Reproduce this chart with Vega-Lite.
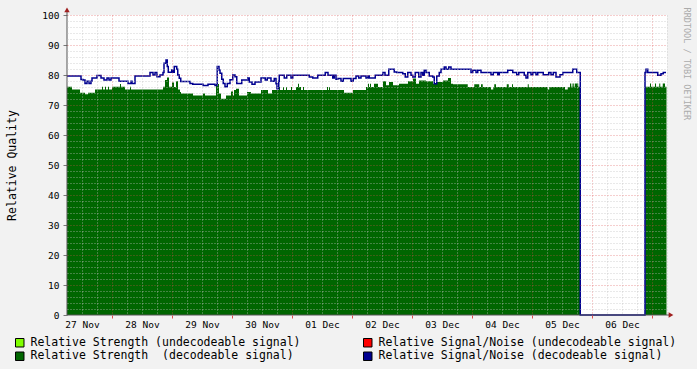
{
  "$schema": "https://vega.github.io/schema/vega-lite/v6.json",
  "width": 600,
  "height": 300,
  "autosize": {"type": "none"},
  "padding": {"left": 67, "top": 15, "right": 30, "bottom": 54},
  "background": "#F2F2F2",
  "config": {
    "view": {"fill": "#FFFFFF", "stroke": null},
    "font": "DejaVu Sans Mono",
    "axis": {"labelFont": "DejaVu Sans Mono", "titleFont": "DejaVu Sans Mono"},
    "legend": {"labelFont": "DejaVu Sans Mono"}
  },
  "title": {"text": "RRDTOOL / TOBI OETIKER", "orient": "right", "anchor": "start", "fontSize": 8.5, "fontWeight": "normal", "color": "#ABABAB", "offset": 5, "font": "DejaVu Sans Mono"},
  "datasets": {
    "strength": [
      {"t":6,"v":76.1},{"t":8,"v":75.2},{"t":11.2,"v":74.1},{"t":13.2,"v":73.6},{"t":14.4,"v":74.1},{"t":17.2,"v":75.2},{"t":20,"v":76.1},{"t":20.4,"v":75.2},{"t":21.2,"v":76.1},{"t":21.6,"v":75.2},{"t":22.4,"v":76.1},{"t":22.8,"v":75.2},{"t":24,"v":76.1},{"t":27.2,"v":77},{"t":27.6,"v":76.1},{"t":29.2,"v":75.2},{"t":31.2,"v":76.1},{"t":31.6,"v":75.2},{"t":44.4,"v":76.1},{"t":45.2,"v":78.3},{"t":46,"v":79.2},{"t":46.8,"v":76.1},{"t":48,"v":77.5},{"t":48.8,"v":76},{"t":49.6,"v":77.9},{"t":50.4,"v":75.2},{"t":51.2,"v":74.3},{"t":51.6,"v":73.8},{"t":56.4,"v":73.2},{"t":60.4,"v":73.8},{"t":61.2,"v":73.2},{"t":65.6,"v":77},{"t":66.8,"v":73.8},{"t":67.6,"v":72.1},{"t":69.6,"v":73.2},{"t":71.6,"v":74.5},{"t":72.4,"v":73.2},{"t":72.8,"v":75},{"t":73.6,"v":75.4},{"t":74.8,"v":73.2},{"t":78,"v":74.3},{"t":79.6,"v":73.8},{"t":83.6,"v":75},{"t":86.4,"v":73.8},{"t":88,"v":75},{"t":90.8,"v":76},{"t":91.2,"v":75},{"t":92.4,"v":76},{"t":92.8,"v":75},{"t":93.6,"v":76},{"t":94,"v":75},{"t":95.6,"v":76},{"t":96,"v":75},{"t":97.6,"v":76},{"t":98.4,"v":77.1},{"t":98.8,"v":76},{"t":99.6,"v":75},{"t":100.4,"v":76},{"t":100.8,"v":75},{"t":110,"v":76},{"t":110.4,"v":75},{"t":110.8,"v":76},{"t":111.2,"v":75},{"t":116.8,"v":74.1},{"t":120.4,"v":75},{"t":125.6,"v":76},{"t":126.4,"v":77.1},{"t":126.8,"v":76},{"t":127.2,"v":77.1},{"t":127.6,"v":76},{"t":128.8,"v":77.1},{"t":130.4,"v":76},{"t":132.4,"v":77.9},{"t":133.6,"v":76.6},{"t":134.8,"v":77.7},{"t":136.4,"v":76.6},{"t":138.8,"v":77.1},{"t":142.4,"v":77.9},{"t":144.4,"v":78.8},{"t":145.6,"v":77.1},{"t":146.8,"v":78.2},{"t":149.6,"v":77.9},{"t":152.4,"v":77.1},{"t":153.6,"v":77.7},{"t":156.4,"v":78.2},{"t":158.4,"v":79},{"t":159.6,"v":77.1},{"t":160.4,"v":76.9},{"t":165.6,"v":76.9},{"t":166.3,"v":76},{"t":168.9,"v":76.9},{"t":170.9,"v":76},{"t":171.6,"v":76.9},{"t":172.3,"v":76},{"t":175.6,"v":75.2},{"t":176.5,"v":76},{"t":176.9,"v":76.9},{"t":177.6,"v":76},{"t":181.9,"v":76.9},{"t":182.7,"v":76},{"t":184,"v":76.9},{"t":184.4,"v":76},{"t":190.3,"v":76.9},{"t":190.7,"v":76},{"t":198.3,"v":75.2},{"t":198.9,"v":76},{"t":205.2,"v":75.2},{"t":206.3,"v":76},{"t":207.2,"v":77.2},{"t":207.6,"v":76.1},{"t":207.9,"v":77.2},{"t":208.2,"v":76.1},{"t":208.5,"v":77.2},{"t":208.9,"v":76.1},{"t":209.2,"v":77.2},{"t":210.5,"v":76.1},{"t":211.3,"v":0},{"t":237.3,"v":76.1},{"t":239.2,"v":77.2},{"t":239.6,"v":76.1},{"t":241.2,"v":77.2},{"t":241.6,"v":76.1},{"t":242.9,"v":77.2},{"t":243.3,"v":76.1},{"t":244.3,"v":77.2},{"t":245.2,"v":76.1},{"t":245.8,"v":76.1}
    ],
    "snr": [
      {"t":6,"v":79.7},{"t":11.6,"v":78.5},{"t":12.4,"v":78.3},{"t":13.2,"v":77.2},{"t":14,"v":77.9},{"t":14.8,"v":77.2},{"t":15.6,"v":77.9},{"t":16,"v":79},{"t":18,"v":79.8},{"t":19.6,"v":79},{"t":20.8,"v":78.3},{"t":22,"v":79},{"t":22.8,"v":78.3},{"t":23.6,"v":79},{"t":26.8,"v":77.9},{"t":30.4,"v":77.2},{"t":31.6,"v":77.9},{"t":32,"v":77.2},{"t":33.2,"v":79.7},{"t":39.2,"v":80.8},{"t":40.4,"v":80},{"t":41.2,"v":80.8},{"t":42,"v":79.4},{"t":43.2,"v":80},{"t":44.4,"v":80.8},{"t":44.8,"v":83.9},{"t":45.6,"v":85},{"t":46.1,"v":82.8},{"t":46.5,"v":80.9},{"t":47.9,"v":81.7},{"t":48.5,"v":80.9},{"t":48.9,"v":82.8},{"t":49.9,"v":81.9},{"t":50.3,"v":80},{"t":50.9,"v":78.9},{"t":51.5,"v":77.8},{"t":55.2,"v":77.2},{"t":56.3,"v":76.9},{"t":60.4,"v":76.5},{"t":62.4,"v":76.9},{"t":65.2,"v":76.5},{"t":66.1,"v":82.8},{"t":66.8,"v":81.7},{"t":67.2,"v":80.6},{"t":67.9,"v":78.6},{"t":68.5,"v":77.2},{"t":69.2,"v":76.1},{"t":70.1,"v":77.2},{"t":71.2,"v":78.4},{"t":72.3,"v":80},{"t":73.2,"v":79.4},{"t":73.9,"v":77.2},{"t":75.9,"v":78.3},{"t":78.3,"v":79},{"t":78.9,"v":77.7},{"t":80,"v":76.9},{"t":81.2,"v":77.7},{"t":83.6,"v":79},{"t":85.3,"v":78.3},{"t":86.1,"v":79},{"t":87.6,"v":77.9},{"t":88.9,"v":78.8},{"t":89.6,"v":77.1},{"t":90,"v":75.4},{"t":90.7,"v":77.9},{"t":90.9,"v":79.9},{"t":92.9,"v":79},{"t":93.9,"v":79.9},{"t":95.6,"v":79},{"t":96.3,"v":79.9},{"t":102.9,"v":79.3},{"t":104.3,"v":79},{"t":106.3,"v":79.9},{"t":109.3,"v":80.8},{"t":110.4,"v":79.9},{"t":112.3,"v":79},{"t":112.9,"v":79.9},{"t":113.6,"v":78.6},{"t":114.3,"v":78.8},{"t":115.6,"v":77.9},{"t":116.5,"v":78.8},{"t":119.6,"v":77.9},{"t":120.5,"v":78.8},{"t":121.6,"v":79.7},{"t":122.7,"v":79},{"t":123.6,"v":79.7},{"t":125.6,"v":79},{"t":126.3,"v":79.7},{"t":126.9,"v":79},{"t":129.3,"v":79.9},{"t":132.3,"v":80.8},{"t":133.2,"v":79.9},{"t":134.7,"v":81.9},{"t":136.9,"v":81},{"t":137.9,"v":80.8},{"t":140.3,"v":80.4},{"t":141.3,"v":79.3},{"t":142.3,"v":80.8},{"t":143.6,"v":79.9},{"t":144.3,"v":79.3},{"t":145.3,"v":80.8},{"t":146.7,"v":79.3},{"t":147.6,"v":80.8},{"t":148.3,"v":79.9},{"t":148.9,"v":81.6},{"t":149.6,"v":80.8},{"t":150.9,"v":79.7},{"t":152.3,"v":79.3},{"t":152.9,"v":77.1},{"t":153.9,"v":79.7},{"t":154.9,"v":80.8},{"t":155.6,"v":81.9},{"t":156.9,"v":82.7},{"t":157.6,"v":81.9},{"t":158.7,"v":82.7},{"t":159.6,"v":81.9},{"t":167.6,"v":80.8},{"t":168.3,"v":81.6},{"t":169.6,"v":80.8},{"t":170.3,"v":81.6},{"t":171.6,"v":80.8},{"t":175.6,"v":80.1},{"t":176.5,"v":80.8},{"t":178.3,"v":80.1},{"t":178.9,"v":80.8},{"t":182.3,"v":81.6},{"t":184.3,"v":80.8},{"t":185.9,"v":80.1},{"t":186.7,"v":80.8},{"t":188.9,"v":79.9},{"t":189.6,"v":79},{"t":190.3,"v":80.8},{"t":191.6,"v":80.1},{"t":192.3,"v":80.8},{"t":193.6,"v":80.1},{"t":194.3,"v":80.8},{"t":196.5,"v":80.1},{"t":198.7,"v":80.8},{"t":199.6,"v":80.1},{"t":200.5,"v":80.8},{"t":201.6,"v":79.3},{"t":203.2,"v":80.1},{"t":204.3,"v":80.8},{"t":208.3,"v":81.9},{"t":209.9,"v":80.8},{"t":211.3,"v":0},{"t":237.2,"v":80.8},{"t":237.6,"v":81.9},{"t":238.3,"v":80.8},{"t":242.3,"v":79.9},{"t":243.6,"v":80.4},{"t":244.5,"v":80.8},{"t":245.6,"v":80.8}
    ]
  },
  "resolve": {"axis": {"x": "independent", "y": "independent"}},
  "layer": [
    {
      "data": {"name": "strength"},
      "mark": {"type": "area", "interpolate": "step-after"},
      "encoding": {
        "x": {"field": "t", "type": "quantitative", "scale": {"domain": [6, 246], "nice": false, "zero": false},
          "axis": {"orient": "bottom", "values": [12,36,60,84,108,132,156,180,204,228],
            "labelExpr": "['27 Nov','28 Nov','29 Nov','30 Nov','01 Dec','02 Dec','03 Dec','04 Dec','05 Dec','06 Dec'][(datum.value-12)/24]",
            "grid": false, "ticks": false, "domain": false, "title": null, "labelFontSize": 9.5, "labelColor": "#000000", "labelPadding": 4}},
        "y": {"field": "v", "type": "quantitative", "scale": {"domain": [0, 100], "nice": false, "zero": true},
          "axis": {"orient": "left", "values": [0,10,20,30,40,50,60,70,80,90,100], "grid": false, "domain": false,
            "tickSize": 4, "tickColor": "#777777", "labelPadding": 4, "labelFontSize": 9.5, "labelColor": "#000000",
            "title": "Relative Quality", "titleFontSize": 11.5, "titleFontWeight": "normal", "titleColor": "#000000", "titlePadding": 24}},
        "color": {"datum": "Relative Strength\u00a0 (decodeable signal)", "type": "nominal",
          "scale": {"domain": ["Relative Strength (undecodeable signal)", "Relative Signal/Noise (undecodeable signal)", "Relative Strength\u00a0 (decodeable signal)", "Relative Signal/Noise (decodeable signal)"],
                    "range": ["#80FF00", "#FF0000", "#006600", "#000090"]},
          "legend": {"orient": "none", "legendX": -53, "legendY": 322, "columns": 2, "direction": "horizontal", "title": null,
            "symbolType": "square", "symbolSize": 72, "symbolStrokeColor": "#000000", "symbolStrokeWidth": 1, "symbolOpacity": 1,
            "labelFontSize": 11.5, "labelLimit": 500, "labelOffset": 5, "columnPadding": 60, "rowPadding": 0.5, "labelColor": "#000000"}}
      }
    },
    {
      "data": {"name": "snr"},
      "mark": {"type": "line", "interpolate": "step-after", "strokeWidth": 1.5, "color": "#000090"},
      "encoding": {
        "x": {"field": "t", "type": "quantitative",
          "axis": {"orient": "bottom", "values": [12,18,30,36,42,54,60,66,78,84,90,102,108,114,126,132,138,150,156,162,174,180,186,198,204,210,222,228,234,246],
            "grid": true, "gridColor": "#BFBFBF", "gridDash": [1,2], "gridOpacity": 0.7, "labels": false, "ticks": false, "domain": false, "title": null, "zindex": 1}},
        "y": {"field": "v", "type": "quantitative",
          "axis": {"orient": "left", "values": [2,4,6,8,12,14,16,18,22,24,26,28,32,34,36,38,42,44,46,48,52,54,56,58,62,64,66,68,72,74,76,78,82,84,86,88,92,94,96,98],
            "grid": true, "gridColor": "#BFBFBF", "gridDash": [1,2], "gridOpacity": 0.7, "labels": false, "ticks": false, "domain": false, "title": null, "zindex": 1}}
      }
    },
    {
      "data": {"name": "snr"},
      "mark": {"type": "line", "strokeOpacity": 0},
      "encoding": {
        "x": {"field": "t", "type": "quantitative",
          "axis": {"orient": "bottom", "values": [24,48,72,96,120,144,168,192,216,240],
            "grid": true, "gridColor": "#DE4F4F", "gridDash": [1,2], "gridOpacity": 0.55, "labels": false, "ticks": true, "tickSize": 3, "tickColor": "#DE4F4F", "domain": false, "title": null, "zindex": 1}},
        "y": {"field": "v", "type": "quantitative",
          "axis": {"orient": "left", "values": [10,20,30,40,50,60,70,80,90,100],
            "grid": true, "gridColor": "#DE4F4F", "gridDash": [1,2], "gridOpacity": 0.55, "labels": false, "ticks": false, "domain": false, "title": null, "zindex": 1}}
      }
    },
    {
      "data": {"values": [{}]},
      "mark": {"type": "rule", "color": "#555555", "clip": false},
      "encoding": {
        "x": {"datum": 6, "type": "quantitative", "axis": null},
        "x2": {"datum": 247},
        "y": {"datum": 0, "type": "quantitative", "axis": null}
      }
    },
    {
      "data": {"values": [{}]},
      "mark": {"type": "rule", "color": "#555555", "clip": false},
      "encoding": {
        "x": {"datum": 6, "type": "quantitative", "axis": null},
        "y": {"datum": 0, "type": "quantitative", "axis": null},
        "y2": {"datum": 101.5}
      }
    },
    {
      "data": {"values": [{}]},
      "mark": {"type": "point", "shape": "triangle-up", "filled": true, "color": "#A02020", "size": 30, "opacity": 1, "clip": false},
      "encoding": {
        "x": {"datum": 6, "type": "quantitative", "axis": null},
        "y": {"datum": 101.7, "type": "quantitative", "axis": null}
      }
    },
    {
      "data": {"values": [{}]},
      "mark": {"type": "point", "shape": "triangle-right", "filled": true, "color": "#A02020", "size": 30, "opacity": 1, "clip": false},
      "encoding": {
        "x": {"datum": 247.6, "type": "quantitative", "axis": null},
        "y": {"datum": 0, "type": "quantitative", "axis": null}
      }
    }
  ]
}
